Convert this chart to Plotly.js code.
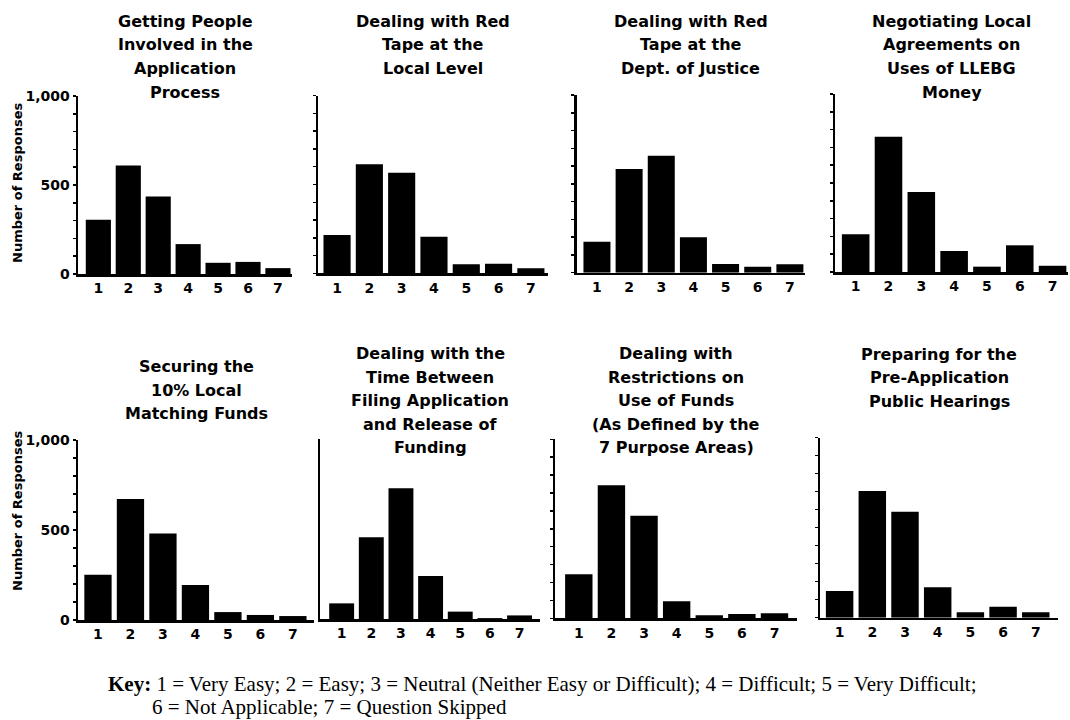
<!DOCTYPE html>
<html>
<head>
<meta charset="utf-8">
<script src="https://cdn.plot.ly/plotly-3.0.1.min.js"></script>
<style>
  html, body { margin: 0; padding: 0; background: #ffffff; }
  #chart { width: 1070px; height: 720px; }
</style>
</head>
<body>
<div id="chart"></div>
<script>
// ---------------- DATA ----------------
const categories = [1, 2, 3, 4, 5, 6, 7];
const categoryLabels = ['1', '2', '3', '4', '5', '6', '7'];

const gettingPeopleInvolved   = [305, 610, 435, 168, 63, 68, 33];
const redTapeLocalLevel       = [216, 614, 566, 206, 51, 54, 28];
const redTapeDeptOfJustice    = [174, 583, 658, 199, 49, 34, 47];
const negotiatingAgreements   = [212, 760, 449, 118, 30, 150, 35];
const securingMatchingFunds   = [252, 672, 481, 194, 44, 28, 22];
const timeFilingToRelease     = [87, 455, 727, 239, 41, 5, 20];
const restrictionsOnFunds     = [246, 743, 573, 95, 17, 24, 28];
const preApplicationHearings  = [148, 704, 589, 169, 30, 61, 30];

const panelTitles = [
  ['Getting People', 'Involved in the', 'Application', 'Process'],
  ['Dealing with Red', 'Tape at the', 'Local Level'],
  ['Dealing with Red', 'Tape at the', 'Dept. of Justice'],
  ['Negotiating Local', 'Agreements on', 'Uses of LLEBG', 'Money'],
  ['Securing the', '10% Local', 'Matching Funds'],
  ['Dealing with the', 'Time Between', 'Filing Application', 'and Release of', 'Funding'],
  ['Dealing with', 'Restrictions on', 'Use of Funds', '(As Defined by the', '7 Purpose Areas)'],
  ['Preparing for the', 'Pre-Application', 'Public Hearings']
];

const yTickValues = [0, 100, 200, 300, 400, 500, 600, 700, 800, 900, 1000];
const yTickLabels = ['0', '', '', '', '', '500', '', '', '', '', '1,000'];
const yAxisTitle = 'Number of Responses';

const keyLine1 = '1 = Very Easy; 2 = Easy; 3 = Neutral (Neither Easy or Difficult); 4 = Difficult; 5 = Very Difficult;';
const keyLine2 = '6 = Not Applicable; 7 = Question Skipped';

const seriesList = [
  gettingPeopleInvolved, redTapeLocalLevel, redTapeDeptOfJustice, negotiatingAgreements,
  securingMatchingFunds, timeFilingToRelease, restrictionsOnFunds, preApplicationHearings
];

// ---------------- LAYOUT (pixel geometry of each panel) ----------------
const W = 1070, H = 720;
// [x0, x1, yBottom, yTop, rangeMin, rangeMax, titleTopY, titleStep, showTicks, showLabels]
const panels = [
  [78, 292, 274, 96, 0.32, 7.47, 21, 23.7, true, true],
  [318, 548, 273.3, 95.7, 0.41, 7.53, 21, 23.7, true, false],
  [576.7, 805, 272.7, 95, 0.37, 7.47, 21, 23.7, true, false],
  [835, 1068, 272, 94, 0.37, 7.47, 21, 23.7, true, false],
  [78, 314, 620, 440, 0.385, 7.65, 366.5, 23.5, true, true],
  [320, 540, 619, 439.3, 0.27, 7.69, 353.5, 23.5, false, false],
  [555, 797, 618.3, 439.3, 0.27, 7.69, 353.5, 23.5, true, false],
  [820, 1058, 617.7, 437.7, 0.40, 7.68, 354, 23.5, true, false]
];

const FONT = 'DejaVu Sans, Arial, sans-serif';
const traces = [];
const layout = {
  width: W, height: H,
  margin: {l: 0, r: 0, t: 0, b: 0},
  paper_bgcolor: '#ffffff',
  plot_bgcolor: 'rgba(0,0,0,0)',
  showlegend: false,
  annotations: []
};

panels.forEach((p, i) => {
  const n = i + 1;
  const xa = n === 1 ? 'x' : 'x' + n;
  const ya = n === 1 ? 'y' : 'y' + n;
  traces.push({
    type: 'bar',
    x: categories,
    y: seriesList[i],
    xaxis: xa, yaxis: ya,
    width: 0.84,
    marker: {color: '#000000', line: {width: 0}},
    hoverinfo: 'x+y'
  });
  const [x0, x1, yb, yt, rmin, rmax, tTop, tStep, showTicks, showLabels] = p;
  layout['xaxis' + (n === 1 ? '' : n)] = {
    domain: [x0 / W, x1 / W],
    anchor: ya,
    range: [rmin, rmax],
    tickvals: categories,
    ticktext: categoryLabels,
    ticks: '',
    showline: true, linecolor: '#000000', linewidth: 2.5,
    showgrid: false, zeroline: false,
    tickfont: {family: FONT, size: 14, color: '#000000', weight: 'bold'},
    fixedrange: true
  };
  layout['yaxis' + (n === 1 ? '' : n)] = {
    domain: [1 - yb / H, 1 - yt / H],
    anchor: xa,
    range: [0, 1000],
    tickmode: 'array',
    tickvals: yTickValues,
    ticktext: showLabels ? yTickLabels : yTickValues.map(() => ''),
    ticks: showTicks ? 'outside' : '',
    ticklen: 3, tickwidth: 1.5, tickcolor: '#000000',
    showline: true, linecolor: '#000000', linewidth: 2.5,
    showgrid: false, zeroline: false,
    tickfont: {family: FONT, size: 14, color: '#000000', weight: 'bold'},
    fixedrange: true
  };
  const cx = (x0 + x1) / 2;
  panelTitles[i].forEach((line, k) => {
    layout.annotations.push({
      xref: 'paper', yref: 'paper',
      x: cx / W, y: 1 - (tTop + k * tStep) / H,
      xanchor: 'center', yanchor: 'middle',
      text: '<b>' + line + '</b>',
      showarrow: false,
      font: {family: FONT, size: 16, color: '#000000'}
    });
  });
});

// y-axis titles on left panels
[183, 511].forEach((cy) => {
  layout.annotations.push({
    xref: 'paper', yref: 'paper',
    x: 17 / W, y: 1 - cy / H,
    xanchor: 'center', yanchor: 'middle',
    textangle: -90,
    text: '<b>' + yAxisTitle + '</b>',
    showarrow: false,
    font: {family: FONT, size: 13, color: '#000000'}
  });
});

// Key
const SERIF = 'Liberation Serif, Times New Roman, serif';
layout.annotations.push({
  xref: 'paper', yref: 'paper',
  x: 106 / W, y: 1 - 684 / H,
  xanchor: 'left', yanchor: 'middle',
  text: '<b>Key:</b> ' + keyLine1,
  showarrow: false,
  font: {family: SERIF, size: 21, color: '#000000'}
});
layout.annotations.push({
  xref: 'paper', yref: 'paper',
  x: 150 / W, y: 1 - 707 / H,
  xanchor: 'left', yanchor: 'middle',
  text: keyLine2,
  showarrow: false,
  font: {family: SERIF, size: 21, color: '#000000'}
});

Plotly.newPlot('chart', traces, layout, {displayModeBar: false, staticPlot: true});
</script>
</body>
</html>
